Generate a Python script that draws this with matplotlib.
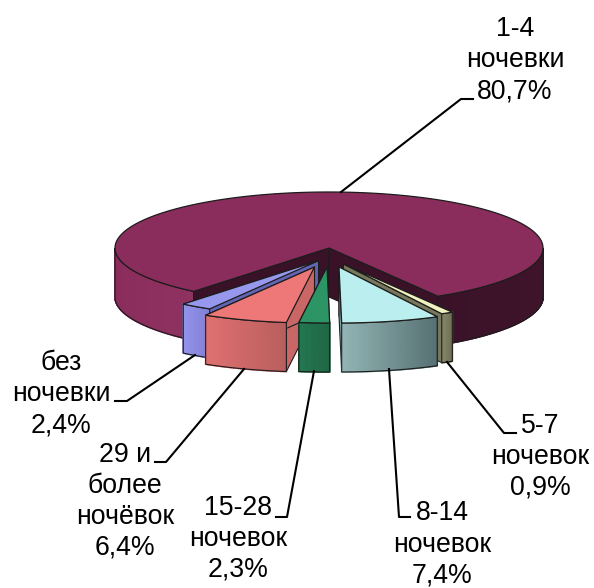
import numpy as np
import matplotlib
matplotlib.use("Agg")
import matplotlib.pyplot as plt
from matplotlib.patches import Polygon

plt.rcParams['font.family'] = ['Liberation Sans', 'DejaVu Sans']

# data
categories = ["1-4\nночевки", "5-7\nночевок", "8-14\nночевок", "15-28\nночевок",
              "29 и\nболее\nночёвок", "без\nночевки"]
values = [80.7, 0.9, 7.4, 2.3, 6.4, 2.4]
value_labels = ["80,7%", "0,9%", "7,4%", "2,3%", "6,4%", "2,4%"]

# layout / style
W, H = 594, 588
CX, CY, RX, RY, DEPTH = 329, 248, 214, 56, 49
FIRST_ANGLE = 219.2
OFFSETS = [(0, 0), (14.5, 16), (10, 19), (-2, 19), (-14.5, 19), (-10.5, 12.7)]
TOP = ["#8b2d5c", "#f2f2c0", "#bbeeee", "#2d9466", "#ee7777", "#9797ee"]
SIDE_L = ["#8b2d5c", "#85856a", "#93b5b5", "#23774f", "#e07070", "#9393ea"]
SIDE_R = ["#3a1228", "#6e6e54", "#567072", "#1f6745", "#b85e5e", "#7e7ed6"]
WALL = ["#3a1228", "#77775c", "#7f9f9f", "#23774f", "#c96767", "#6464b4"]
LABEL_POS = [(515, 98), (540, 495), (442, 582.5), (238, 577), (125, 555), (61, 432)]
LEADERS = [[(341, 192), (461, 99), (473, 99)],
           [(447, 362), (504, 433), (516, 433)],
           [(389, 369), (399, 517), (410, 517)],
           [(314, 371), (287, 517), (276, 517)],
           [(244, 369), (166, 462), (155, 462)],
           [(195, 355), (127, 401), (115, 401)]]
EDGE = "#1c1c1c"

fig = plt.figure(figsize=(W / 100, H / 100), dpi=100)
ax = fig.add_axes([0, 0, 1, 1])
ax.set_xlim(0, W)
ax.set_ylim(H, 0)
ax.axis("off")


def pt(a, ox=0, oy=0, d=0):
    r = np.radians(a)
    return CX + ox + RX * np.sin(r), CY + oy + d - RY * np.cos(r)


def lerp(c1, c2, t):
    a = np.array(matplotlib.colors.to_rgb(c1))
    b = np.array(matplotlib.colors.to_rgb(c2))
    return tuple(a + (b - a) * t)


def side(a0, a1, ox, oy, c0, c1, z):
    """outer rim drawn as narrow strips, clockwise angle a0 -> a1"""
    angs = np.linspace(a0, a1, max(int(abs(a1 - a0) * 1.5), 12))
    xs, ys = pt(angs, ox, oy)
    xmin, xmax = xs.min(), xs.max()
    for i in range(len(angs) - 1):
        t = ((xs[i] + xs[i + 1]) / 2 - xmin) / max(xmax - xmin, 1e-6)
        c = lerp(c0, c1, t)
        ax.add_patch(Polygon([(xs[i], ys[i]), (xs[i + 1], ys[i + 1]),
                              (xs[i + 1], ys[i + 1] + DEPTH), (xs[i], ys[i] + DEPTH)],
                             fc=c, ec=c, lw=1.2, zorder=z))
    ring = list(zip(xs, ys)) + list(zip(xs[::-1], ys[::-1] + DEPTH))
    ax.add_patch(Polygon(ring, fc="none", ec=EDGE, lw=0.8, zorder=z + 0.1))


def wall(a, ox, oy, c, z):
    x0, y0 = CX + ox, CY + oy
    x1, y1 = pt(a, ox, oy)
    ax.add_patch(Polygon([(x0, y0), (x1, y1), (x1, y1 + DEPTH), (x0, y0 + DEPTH)],
                         fc=c, ec=EDGE, lw=0.8, zorder=z))


def top(a0, a1, ox, oy, c, z):
    angs = np.linspace(a0, a1, max(int(abs(a1 - a0) * 2), 8))
    xs, ys = pt(angs, ox, oy)
    verts = [(CX + ox, CY + oy)] + list(zip(xs, ys))
    ax.add_patch(Polygon(verts, fc=c, ec=EDGE, lw=0.9, joinstyle="round", zorder=z))


# slice angles, clockwise from twelve o'clock
sweeps = np.array(values) / sum(values) * 360
starts = FIRST_ANGLE + np.concatenate([[0], np.cumsum(sweeps)[:-1]])
ends = starts + sweeps

# big slice: rim either side of the notch, notch walls, top
a0, a1 = starts[0], ends[0]
side(a0, 270, 0, 0, "#8b2d5c", "#8f3262", 1)
side(90, a1 - 360, 0, 0, "#3a1228", "#3f142b", 1)
wall(a0, 0, 0, WALL[0], 2)
wall(a1 - 360, 0, 0, WALL[0], 2)
top(a0, a1, 0, 0, TOP[0], 3)

# exploded slices, back to front
for n, i in enumerate([5, 1, 4, 2, 3]):
    z = 10 + n * 2
    ox, oy = OFFSETS[i]
    s, e = starts[i] % 360, (ends[i] - 1e-9) % 360
    wall(s, ox, oy, WALL[i], z)
    wall(e, ox, oy, WALL[i], z)
    side(s, e, ox, oy, SIDE_L[i], SIDE_R[i], z + 0.2)
    top(s, e, ox, oy, TOP[i], z + 0.5)

# leaders and labels
for path in LEADERS:
    xs, ys = zip(*path)
    ax.plot(xs, ys, color="black", lw=1.5, solid_joinstyle="round", zorder=30)
for (x, y), c, v in zip(LABEL_POS, categories, value_labels):
    ax.text(x, y, f"{c}\n{v}", ha="center", va="baseline", fontsize=19.2,
            linespacing=1.25, color="black", zorder=31)

fig.savefig("out.png", dpi=100)
